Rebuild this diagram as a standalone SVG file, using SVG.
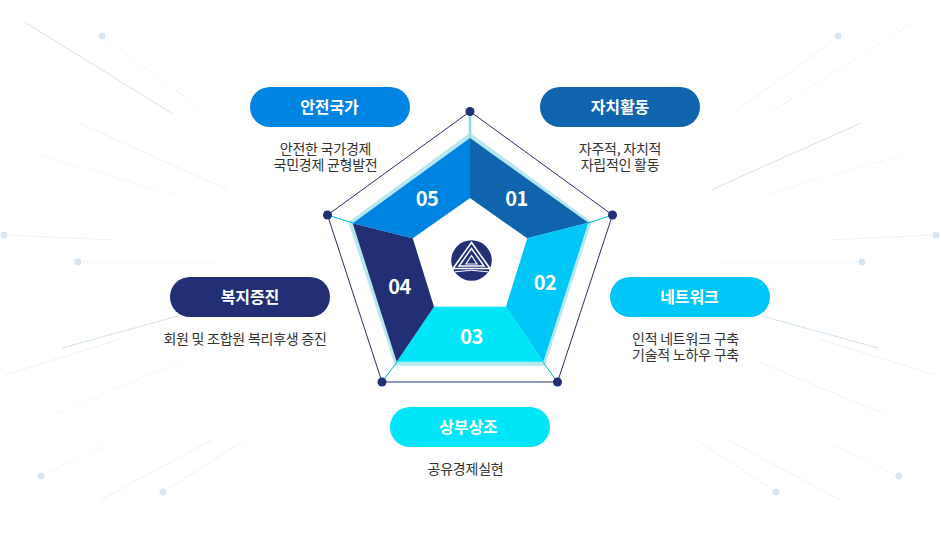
<svg xmlns="http://www.w3.org/2000/svg" width="941" height="535" viewBox="0 0 941 535">
<style>
text{font-family:"Noto Sans CJK KR","Noto Sans",sans-serif;text-anchor:middle}
.t{font-size:16px;font-weight:700;fill:#fff;letter-spacing:-.1px}
.d{font-size:14px;fill:#333;letter-spacing:-.25px}
.n{font-size:20px;font-weight:700;fill:#fff;letter-spacing:-.5px}
.a{stroke:#d3e3ef;fill:none}
.b{stroke:#eef3f6;fill:none}
.c{stroke:#d3e3ef;fill:none;stroke-dasharray:1 3}
.e{fill:#d9e6f0}
.sp{stroke:#00b8d4;stroke-width:1}
</style>
<rect width="941" height="535" fill="#fff"/>
<g id="background">
<path class="a" d="M23 21L173 114"/><path class="c" d="M108 41L202 109"/><circle class="e" cx="102" cy="36" r="3.500"/>
<path class="b" d="M79 123L228 190"/><path class="c" d="M39 155L175 195"/>
<path class="b" d="M8 235L112 240"/><circle class="e" cx="4" cy="235" r="3.500"/>
<path class="c" d="M83 262L221 262"/><circle class="e" cx="78" cy="262" r="3.500"/>
<path class="a" d="M62 348L178 316"/><path class="b" d="M5 375L121 339"/><path class="c" d="M55 414L183 361"/>
<path class="c" d="M45 474L107 445"/><circle class="e" cx="41" cy="476" r="3.500"/>
<path class="b" d="M100 500L212 440"/><path class="b" d="M167 490L243 441"/><circle class="e" cx="163" cy="492" r="3.500"/>
<path class="b" d="M737 110L833 41"/><circle class="e" cx="838" cy="36" r="3.500"/><path class="c" d="M767 114L916 21"/>
<path class="a" d="M711 190L861 123"/><path class="c" d="M765 195L901 155"/>
<path class="b" d="M828 240L932 235"/><circle class="e" cx="936" cy="235" r="3.500"/>
<path class="c" d="M720 262L857 262"/><circle class="e" cx="862" cy="262" r="3.500"/>
<path class="a" d="M762 316L878 348"/><path class="b" d="M819 339L935 375"/><path class="b" d="M759 362L884 414"/>
<path class="c" d="M833 445L895 474"/><circle class="e" cx="899" cy="476" r="3.500"/>
<path class="b" d="M728 440L840 500"/><path class="b" d="M698 441L773 490"/><circle class="e" cx="776" cy="492" r="3.500"/>
</g>
<g id="connectors">
<polygon points="470,132.700 591.700,222 545,365.700 395,365.700 348.300,222" fill="#b8e8ef"/>
<polygon points="470,111.500 612.500,215 557.500,382 382,382 327.500,215" fill="none" stroke="#222f75" stroke-width="1"/>
<rect x="468.500" y="112" width="3" height="22" fill="#b8e8ef"/>
<path class="sp" d="M612.500 215L588 223M557.500 382L543 362M382 382L397 362M327.500 215L353 223"/>
<path d="M470 112V138" stroke="#00b8d4" stroke-opacity=".45"/>
<g fill="#222f75"><circle cx="470" cy="111.500" r="4.500"/><circle cx="612.500" cy="215" r="4.500"/><circle cx="557.500" cy="382" r="4.500"/><circle cx="382" cy="382" r="4.500"/><circle cx="327.500" cy="215" r="4.500"/></g>
</g>
<polygon id="centre" points="470,198 527.300,238.300 506,306.700 434,306.700 412.700,238.300" fill="#fff"/>
<g id="segment-01"><polygon points="470,138 588.300,222.700 527.300,238.300 470,198" fill="#1063ad"/><text class="n" x="516.500" y="205.500">01</text></g>
<g id="segment-02"><polygon points="588.300,222.700 543.300,361.700 506,306.700 527.300,238.300" fill="#00c7f8"/><text class="n" x="545" y="290">02</text></g>
<g id="segment-03"><polygon points="543.300,361.700 396.700,361.700 434,306.700 506,306.700" fill="#00e6f8"/><text class="n" x="471.500" y="344">03</text></g>
<g id="segment-04"><polygon points="396.700,361.700 352.700,223.300 412.700,238.300 434,306.700" fill="#222f75"/><text class="n" x="399.500" y="293.500">04</text></g>
<g id="segment-05"><polygon points="352.700,223.300 470,138 470,198 412.700,238.300" fill="#0084e2"/><text class="n" x="427" y="205.500">05</text></g>
<g id="logo">
<circle cx="471.500" cy="260.500" r="20.300" fill="#222f75"/>
<g fill="none" stroke="#fff" stroke-linejoin="miter"><path stroke-width="1.600" d="M471.500 242.500L453 268.500H490Z"/><path stroke-width="1.500" d="M471.500 248.500L459 266H484Z"/><path stroke-width="1.200" d="M471.500 255.500L466 264H477Z"/></g>
<path d="M455 271.800Q471.500 268.800 488 271.800" stroke="#fff" stroke-width="1" fill="none"/>
</g>
<g id="node-05"><rect x="250" y="87" width="160" height="40" rx="20" fill="#0084e2"/><text class="t" x="329.500" y="113">안전국가</text><text class="d"><tspan x="325.500" y="153.500">안전한 국가경제</tspan><tspan x="325.500" y="170">국민경제 균형발전</tspan></text></g>
<g id="node-01"><rect x="540" y="87" width="160" height="40" rx="20" fill="#1063ad"/><text class="t" x="620" y="113">자치활동</text><text class="d"><tspan x="620" y="153.500">자주적, 자치적</tspan><tspan x="620" y="170">자립적인 활동</tspan></text></g>
<g id="node-04"><rect x="170" y="277" width="160" height="40" rx="20" fill="#222f75"/><text class="t" x="250" y="303">복지증진</text><text class="d" x="245" y="343.500">회원 및 조합원 복리후생 증진</text></g>
<g id="node-02"><rect x="610" y="277" width="160" height="40" rx="20" fill="#00c7f8"/><text class="t" x="689.500" y="303">네트워크</text><text class="d"><tspan x="685.500" y="343.500">인적 네트워크 구축</tspan><tspan x="685.500" y="360">기술적 노하우 구축</tspan></text></g>
<g id="node-03"><rect x="390" y="407" width="160" height="40" rx="20" fill="#00e6f8"/><text class="t" x="468.500" y="433">상부상조</text><text class="d" x="465.500" y="473.500">공유경제실현</text></g>
</svg>
